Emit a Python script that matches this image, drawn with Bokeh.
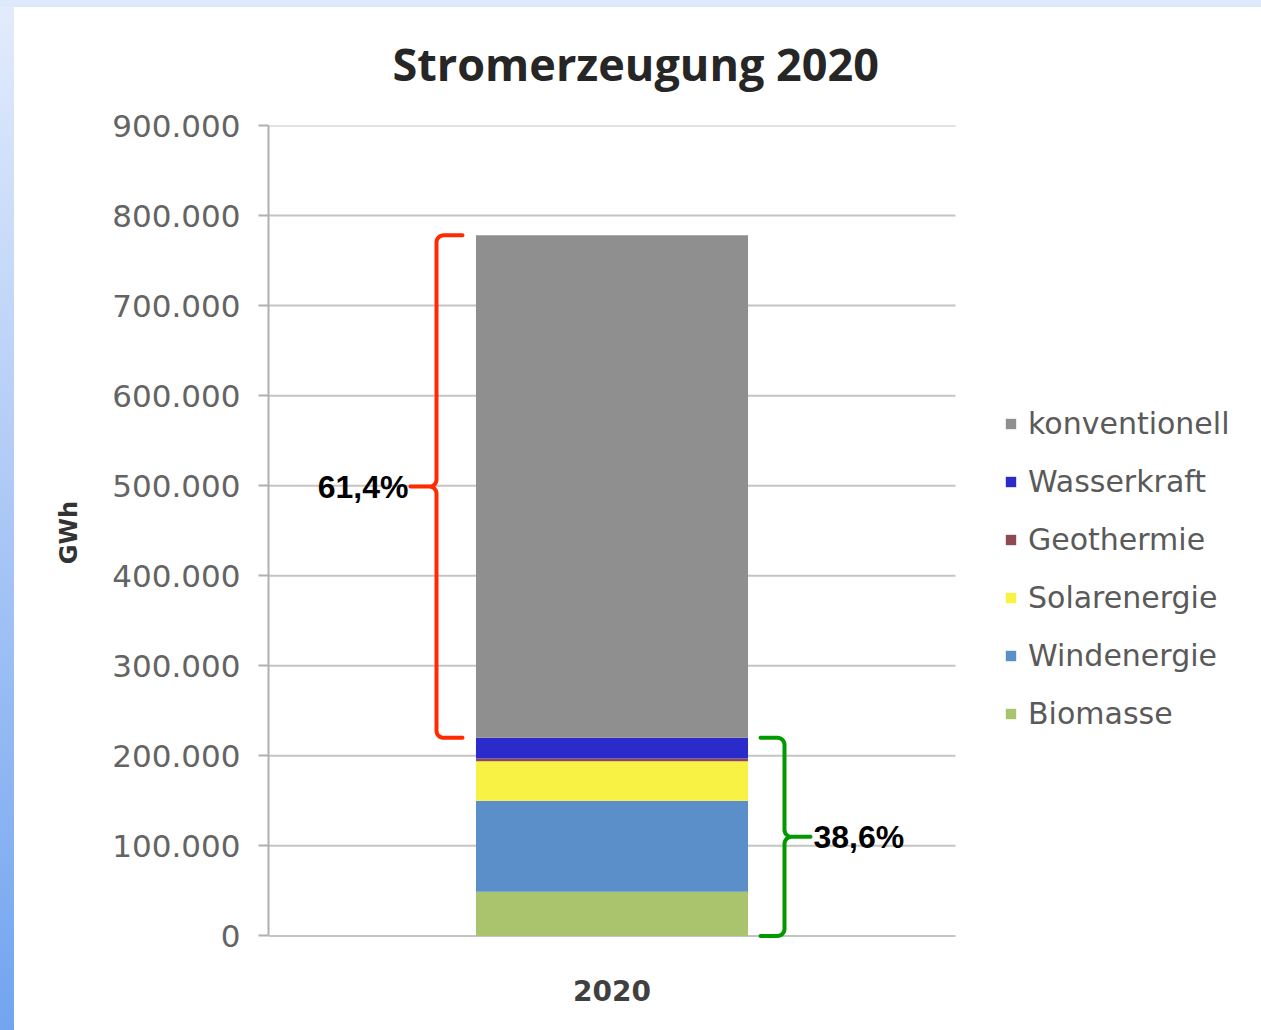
import math
from bokeh.plotting import figure
from bokeh.models import Range1d, FixedTicker, Legend, LegendItem, Div
from bokeh.layouts import column
from bokeh.core.properties import value
from bokeh.embed import file_html
from bokeh.resources import INLINE

# ---------------- data ----------------
chart_title = "Stromerzeugung 2020"
years = ["2020"]
sources = ["Biomasse", "Windenergie", "Solarenergie", "Geothermie", "Wasserkraft", "konventionell"]
values_gwh = [49000, 101000, 44000, 3000, 23000, 558000]
colors = ["#a9c46c", "#5b8fca", "#f8f245", "#8e4a52", "#2b2bcc", "#8f8f8f"]
y_ticks = [0, 100000, 200000, 300000, 400000, 500000, 600000, 700000, 800000, 900000]
y_tick_labels = ["0", "100.000", "200.000", "300.000", "400.000", "500.000",
                 "600.000", "700.000", "800.000", "900.000"]
y_label = "GWh"
share_labels = ["61,4%", "38,6%"]   # konventionell, erneuerbar

# ---------------- layout constants ----------------
W, H = 1259, 1028
Y0, Y1 = -4000, 900000
FRAME_L, FRAME_T = 268, 125
PLOT_R = 955                       # right end of the chart area (gridlines)
PX_X = float(PLOT_R - FRAME_L)     # pixels per x unit (category band = 1 unit)
FRAME_H = 814.0
FRAME_B = FRAME_T + FRAME_H
PX_Y = FRAME_H / (Y1 - Y0)
X_CENTER = (FRAME_L + PLOT_R) / 2.0
X_END = -0.5 + (W - FRAME_L) / PX_X

p = figure(width=W, height=H, x_range=Range1d(-0.5, X_END), y_range=Range1d(Y0, Y1),
           output_backend="svg", toolbar_location=None,
           min_border_left=FRAME_L, min_border_right=0,
           min_border_top=FRAME_T, min_border_bottom=int(H - FRAME_B),
           title=chart_title)
p.background_fill_color = "white"
p.border_fill_color = "white"
p.outline_line_color = None

# title
p.title.text_font = "Open Sans"
p.title.text_font_size = "45px"
p.title.text_font_style = "bold"
p.title.text_color = "#262626"
p.title.align = "left"
p.title.vertical_align = "top"
p.title.offset = 124
p.title.standoff = 60

# y axis
p.yaxis.ticker = FixedTicker(ticks=y_ticks)
p.yaxis.major_label_overrides = {t: l for t, l in zip(y_ticks, y_tick_labels)}
p.yaxis.bounds = (y_ticks[0], y_ticks[-1])
p.yaxis.axis_label = y_label
p.yaxis.axis_label_text_font = "DejaVu Sans"
p.yaxis.axis_label_text_font_size = "24px"
p.yaxis.axis_label_text_font_style = "bold"
p.yaxis.axis_label_text_color = "#333333"
p.yaxis.axis_label_standoff = 26
p.yaxis.major_label_text_font = "DejaVu Sans"
p.yaxis.major_label_text_font_size = "31px"
p.yaxis.major_label_text_color = "#646464"
p.yaxis.major_label_standoff = 18
p.yaxis.axis_line_color = "#b0b0b0"
p.yaxis.axis_line_width = 2
p.yaxis.major_tick_line_color = "#b0b0b0"
p.yaxis.major_tick_line_width = 2
p.yaxis.major_tick_out = 10
p.yaxis.major_tick_in = 0
p.yaxis.minor_tick_line_color = None

# x axis
p.xaxis.ticker = FixedTicker(ticks=[0])
p.xaxis.major_label_overrides = {0: years[0]}
p.xaxis.axis_line_color = None
p.xaxis.major_tick_line_color = None
p.xaxis.minor_tick_line_color = None
p.xaxis.major_label_text_font = "DejaVu Sans"
p.xaxis.major_label_text_font_size = "28px"
p.xaxis.major_label_text_font_style = "bold"
p.xaxis.major_label_text_color = "#404040"
p.xaxis.major_label_standoff = 34

# grid (limited to the category band)
p.xgrid.grid_line_color = None
p.ygrid.grid_line_color = None
p.segment(x0=[-0.5] * len(y_ticks), x1=[0.5] * len(y_ticks), y0=y_ticks, y1=y_ticks,
          line_color="#c4c4c4", line_width=2)

# stacked bar
renderers = []
bottom = 0
for name, val, col in zip(sources, values_gwh, colors):
    r = p.vbar(x=[0], bottom=[bottom], top=[bottom + val], width=0.396,
               fill_color=col, line_color=None)
    renderers.append((name, r))
    bottom += val
total = bottom
renewable = sum(values_gwh[:-1])

legend = Legend(items=[LegendItem(label=n, renderers=[r]) for n, r in reversed(renderers)],
                location=(1004 - FRAME_L, 208))
legend.label_text_font = "DejaVu Sans"
legend.label_text_font_size = "30px"
legend.label_text_color = "#5a5a5a"
legend.glyph_width = 13
legend.glyph_height = 13
legend.label_height = 30
legend.label_standoff = 11
legend.spacing = 23
legend.padding = 0
legend.margin = 0
legend.border_line_color = None
legend.background_fill_alpha = 0
p.add_layout(legend)


# braces
def brace(xv, y_top, y_bot, s, hook, tip, r=7, n=8):
    X0 = xv * PX_X
    top = y_top * PX_Y
    bot = y_bot * PX_Y
    mid = (top + bot) / 2
    xs, ys = [X0 + s * hook], [top]
    for i in range(n + 1):
        t = i / n * math.pi / 2
        xs.append(X0 + s * r * (1 - math.sin(t))); ys.append(top - r * (1 - math.cos(t)))
    for i in range(n + 1):
        t = i / n * math.pi / 2
        xs.append(X0 - s * r * (1 - math.cos(t))); ys.append(mid + r * (1 - math.sin(t)))
    xs.append(X0 - s * tip); ys.append(mid)
    for i in range(n + 1):
        t = i / n * math.pi / 2
        xs.append(X0 - s * r * (1 - math.sin(t))); ys.append(mid - r * (1 - math.cos(t)))
    for i in range(n + 1):
        t = i / n * math.pi / 2
        xs.append(X0 + s * r * (1 - math.cos(t))); ys.append(bot + r * (1 - math.sin(t)))
    xs.append(X0 + s * hook); ys.append(bot)
    return [x / PX_X for x in xs], [y / PX_Y for y in ys], (X0 - s * tip) / PX_X, mid / PX_Y


red_x = (436 - X_CENTER) / PX_X
green_x = (784 - X_CENTER) / PX_X
bx, by, tipx, tipy = brace(red_x, total, renewable, 1, 26, 26)
p.line(bx, by, line_color="#ff2a00", line_width=4, line_join="round", line_cap="round")
p.text(x=[tipx - 2 / PX_X], y=[tipy], text=[share_labels[0]], text_align="right",
       text_baseline="middle", text_font=value("Liberation Sans"), text_font_style="bold",
       text_font_size="32px", text_color="black")
gx, gy, gtipx, gtipy = brace(green_x, renewable, 0, -1, 24, 26)
p.line(gx, gy, line_color="#009a00", line_width=4, line_join="round", line_cap="round")
p.text(x=[gtipx + 3 / PX_X], y=[gtipy], text=[share_labels[1]], text_align="left",
       text_baseline="middle", text_font=value("Liberation Sans"), text_font_style="bold",
       text_font_size="32px", text_color="black")

edge = Div(text='<div style="position:fixed;left:0;top:0;width:14px;height:1030px;'
                'background:linear-gradient(#e3ecfc,#72a4f0);"></div>'
                '<div style="position:fixed;left:0;top:0;width:1261px;height:7px;'
                'background:#dfe9fc;"></div>', width=0, height=0)

layout = column(p, edge)
open("out.html", "w").write(file_html(layout, INLINE))
